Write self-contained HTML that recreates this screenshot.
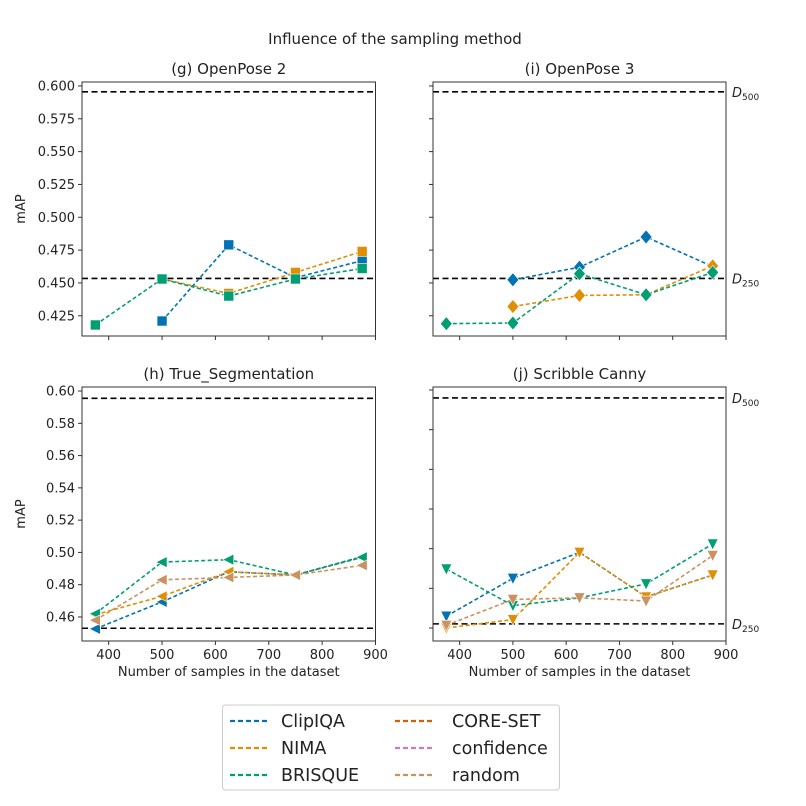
<!DOCTYPE html>
<html><head><meta charset="utf-8"><style>
html,body{margin:0;padding:0;background:#fff}
svg{display:block;font-family:"DejaVu Sans","Liberation Sans",sans-serif}
</style></head><body>
<svg id="chart" width="806" height="806" viewBox="0 0 806 806">
<text x="395" y="44" font-size="15" text-anchor="middle" fill="#222">Influence of the sampling method</text>
</svg>
<script>
const xVals = [375, 500, 625, 750, 875];
const xTicks = [400, 500, 600, 700, 800, 900];
const colors = {clip:'#0173b2', nima:'#de8f05', bris:'#029e73', core:'#d55e00', conf:'#cc78bc', rand:'#ca9161'};
// panel g
const gClip = [null, 0.421, 0.479, 0.454, 0.467];
const gNima = [null, 0.453, 0.442, 0.458, 0.474];
const gBris = [0.418, 0.453, 0.440, 0.453, 0.461];
// panel i
const iClip = [null, 0.4524, 0.462, 0.485, 0.4625];
const iNima = [null, 0.432, 0.4405, 0.441, 0.463];
const iBris = [0.419, 0.4195, 0.457, 0.441, 0.458];
// panel h
const hClip = [0.4526, 0.4693, 0.488, 0.486, 0.4974];
const hNima = [0.4614, 0.4728, 0.488, 0.486, 0.497];
const hBris = [0.462, 0.494, 0.4955, 0.486, 0.497];
const hRand = [0.458, 0.483, 0.4845, 0.486, 0.492];
// panel j
const jClip = [0.4574, 0.4813, 0.4977, 0.4696, 0.4834];
const jNima = [0.450, 0.4553, 0.4977, 0.4696, 0.4834];
const jBris = [0.4872, 0.4641, 0.469, 0.4778, 0.503];
const jRand = [0.4517, 0.468, 0.469, 0.467, 0.4957];
const topTicks = [0.425, 0.450, 0.475, 0.500, 0.525, 0.550, 0.575, 0.600];
const topTickLabels = ['0.425','0.450','0.475','0.500','0.525','0.550','0.575','0.600'];
const blTicks = [0.46, 0.48, 0.50, 0.52, 0.54, 0.56, 0.58, 0.60];
const blTickLabels = ['0.46','0.48','0.50','0.52','0.54','0.56','0.58','0.60'];
const brTicks = [0.450, 0.475, 0.500, 0.525, 0.550, 0.575, 0.600];
const refTop = [0.5955, 0.4534];
const refBL = [0.5955, 0.453];
const refBR = [0.595, 0.4526];

const svg = document.getElementById('chart');
const NS = 'http://www.w3.org/2000/svg';
function mk(tag, attrs, parent){const e=document.createElementNS(NS,tag);for(const k in attrs)e.setAttribute(k,attrs[k]);(parent||svg).appendChild(e);return e;}

function panel(opt){
  const g = mk('g',{});
  
  
  const L=opt.x0, R=opt.x1, T=opt.y0, B=opt.y1;
  const xs = v => L + (v-350)/(900-350)*(R-L);
  const ys = v => T + (opt.ymax-v)/(opt.ymax-opt.ymin)*(B-T);
  const t = mk('text',{x:(L+R)/2,y:T-8,'font-size':15,'text-anchor':'middle',fill:'#222'},g);
  t.textContent = opt.title;
  
  
  opt.yTicks.forEach((v,i)=>{
    const y=ys(v);
    mk('line',{x1:L-4,x2:L,y1:y,y2:y,stroke:'#333','stroke-width':1},g);
    if(opt.yLabels){
      const tx=mk('text',{x:L-7,y:y+4.5,'font-size':13,'text-anchor':'end',fill:'#222'},g);
      tx.textContent=opt.yLabels[i];
      
      
    }
  });
  xTicks.forEach(v=>{
    const x=xs(v);
    mk('line',{x1:x,x2:x,y1:B,y2:B+4,stroke:'#333','stroke-width':1},g);
    if(opt.xLabels){
      const tx=mk('text',{x:x,y:B+18,'font-size':13,'text-anchor':'middle',fill:'#222'},g);
      tx.textContent=String(v);
      
      
    }
  });
  if(opt.xLabels){
    const xt=mk('text',{x:(L+R)/2,y:B+35,'font-size':13,'text-anchor':'middle',fill:'#222'},g);
    xt.textContent='Number of samples in the dataset';
    
    
  }
  if(opt.yLabels){
    const yt=mk('text',{x:0,y:0,'font-size':13,'text-anchor':'middle',fill:'#222',transform:`translate(${L-57},${(T+B)/2}) rotate(-90)`},g);
    yt.textContent='mAP';
    
    
  }
  opt.refs.forEach((v,i)=>{
    const y=ys(v);
    const ln=mk('line',{x1:L,x2:R,y1:y,y2:y,stroke:'#000','stroke-width':1.6,'stroke-dasharray':'6,3.5'},g);
    
    
    if(opt.refLabels){
      const tx=mk('text',{x:R+6,y:y+5,'font-size':13,'font-style':'italic',fill:'#222'},g);
      tx.textContent='D';
      const sub=mk('tspan',{'font-size':9,'font-style':'normal',dy:3},tx);
      sub.textContent=i===0?'500':'250';
      
      
    }
  });
  opt.series.forEach(s=>{
    const pts=[];
    s.vals.forEach((v,i)=>{ if(v!==null) pts.push([xs(xVals[i]),ys(v)]); });
    const pl=mk('polyline',{points:pts.map(p=>p.join(',')).join(' '),fill:'none',stroke:s.color,'stroke-width':1.6,'stroke-dasharray':'4,2.5'},g);
    
    
    pts.forEach(p=>{
      const [x,y]=p; let m;
      if(opt.marker==='s') m=mk('rect',{x:x-5,y:y-5,width:10,height:10,fill:s.color,stroke:'#fff','stroke-width':0.6},g);
      else if(opt.marker==='d') m=mk('polygon',{points:`${x},${y-7} ${x+6},${y} ${x},${y+7} ${x-6},${y}`,fill:s.color,stroke:'#fff','stroke-width':0.6},g);
      else if(opt.marker==='<') m=mk('polygon',{points:`${x-6},${y} ${x+5},${y-5.5} ${x+5},${y+5.5}`,fill:s.color,stroke:'#fff','stroke-width':0.6},g);
      else m=mk('polygon',{points:`${x-5.5},${y-5} ${x+5.5},${y-5} ${x},${y+6}`,fill:s.color,stroke:'#fff','stroke-width':0.6},g);
      
      
    });
  });
  mk('rect',{x:L,y:T,width:R-L,height:B-T,fill:'none',stroke:'#333','stroke-width':1},g);
}

panel({name:'panel-g-openpose-2',title:'(g) OpenPose 2',x0:82,x1:375.5,y0:82,y1:336,ymin:0.4096,ymax:0.6030,
  yTicks:topTicks,yLabels:topTickLabels,xLabels:false,refs:refTop,refLabels:false,marker:'s',
  series:[{name:'clipiqa',color:colors.clip,vals:gClip},{name:'nima',color:colors.nima,vals:gNima},{name:'brisque',color:colors.bris,vals:gBris}]});
panel({name:'panel-i-openpose-3',title:'(i) OpenPose 3',x0:433,x1:726,y0:82,y1:336,ymin:0.4096,ymax:0.6030,
  yTicks:topTicks,yLabels:null,xLabels:false,refs:refTop,refLabels:true,marker:'d',
  series:[{name:'clipiqa',color:colors.clip,vals:iClip},{name:'nima',color:colors.nima,vals:iNima},{name:'brisque',color:colors.bris,vals:iBris}]});
panel({name:'panel-h-true-segmentation',title:'(h) True_Segmentation',x0:82,x1:375.5,y0:387,y1:641,ymin:0.4451,ymax:0.6025,
  yTicks:blTicks,yLabels:blTickLabels,xLabels:true,refs:refBL,refLabels:false,marker:'<',
  series:[{name:'clipiqa',color:colors.clip,vals:hClip},{name:'nima',color:colors.nima,vals:hNima},{name:'brisque',color:colors.bris,vals:hBris},{name:'random',color:colors.rand,vals:hRand}]});
panel({name:'panel-j-scribble-canny',title:'(j) Scribble Canny',x0:433,x1:726,y0:387,y1:641,ymin:0.4418,ymax:0.6019,
  yTicks:brTicks,yLabels:null,xLabels:true,refs:refBR,refLabels:true,marker:'v',
  series:[{name:'clipiqa',color:colors.clip,vals:jClip},{name:'nima',color:colors.nima,vals:jNima},{name:'brisque',color:colors.bris,vals:jBris},{name:'random',color:colors.rand,vals:jRand}]});

const leg = mk('g',{});


mk('rect',{x:222.5,y:705,width:337,height:85,rx:3,fill:'#fff',stroke:'#ccc','stroke-width':1},leg);
const legNames = ['ClipIQA','NIMA','BRISQUE','CORE-SET','confidence','random'];
const legColors = [colors.clip,colors.nima,colors.bris,colors.core,colors.conf,colors.rand];
legNames.forEach((n,i)=>{
  const col=Math.floor(i/3), row=i%3;
  const lx = col===0?230:395, tx = col===0?281:452, y = 721+row*27;
  const ln=mk('line',{x1:lx,x2:lx+37,y1:y,y2:y,stroke:legColors[i],'stroke-width':2.2,'stroke-dasharray':'5,3'},leg);
  
  
  const t=mk('text',{x:tx,y:y+6,'font-size':17.5,fill:'#222'},leg);
  t.textContent=n;
  
  
});
</script>
</body></html>
